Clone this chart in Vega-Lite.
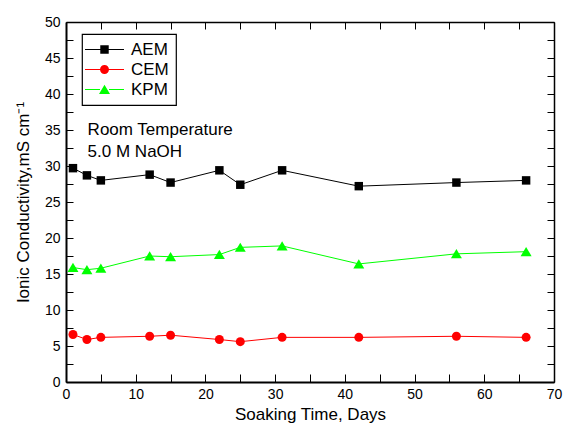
{
  "$schema": "https://vega.github.io/schema/vega-lite/v6.json",
  "width": 488,
  "height": 360,
  "autosize": "none",
  "padding": {"left": 66, "top": 22, "right": 9, "bottom": 50},
  "background": "white",
  "config": {
    "font": "Liberation Sans",
    "view": {"stroke": null},
    "axis": {
      "domainColor": "black",
      "tickColor": "black",
      "labelColor": "black",
      "titleColor": "black",
      "labelFont": "Liberation Sans",
      "titleFont": "Liberation Sans",
      "labelFontSize": 14,
      "titleFontSize": 17,
      "titleFontWeight": "normal",
      "grid": false,
      "ticks": true,
      "tickSize": -7,
      "tickWidth": 1,
      "labelFlush": false,
      "labelOverlap": false
    }
  },
  "data": {
    "values": [
      {"day": 1, "series": "AEM", "value": 29.7},
      {"day": 3, "series": "AEM", "value": 28.7},
      {"day": 5, "series": "AEM", "value": 28.0},
      {"day": 12, "series": "AEM", "value": 28.8},
      {"day": 15, "series": "AEM", "value": 27.7},
      {"day": 22, "series": "AEM", "value": 29.4},
      {"day": 25, "series": "AEM", "value": 27.4},
      {"day": 31, "series": "AEM", "value": 29.4},
      {"day": 42, "series": "AEM", "value": 27.2},
      {"day": 56, "series": "AEM", "value": 27.7},
      {"day": 66, "series": "AEM", "value": 28.0},
      {"day": 1, "series": "CEM", "value": 6.6},
      {"day": 3, "series": "CEM", "value": 5.9},
      {"day": 5, "series": "CEM", "value": 6.2},
      {"day": 12, "series": "CEM", "value": 6.35},
      {"day": 15, "series": "CEM", "value": 6.5},
      {"day": 22, "series": "CEM", "value": 5.9},
      {"day": 25, "series": "CEM", "value": 5.6},
      {"day": 31, "series": "CEM", "value": 6.2},
      {"day": 42, "series": "CEM", "value": 6.2},
      {"day": 56, "series": "CEM", "value": 6.35},
      {"day": 66, "series": "CEM", "value": 6.2},
      {"day": 1, "series": "KPM", "value": 15.9},
      {"day": 3, "series": "KPM", "value": 15.6},
      {"day": 5, "series": "KPM", "value": 15.8},
      {"day": 12, "series": "KPM", "value": 17.5},
      {"day": 15, "series": "KPM", "value": 17.4},
      {"day": 22, "series": "KPM", "value": 17.7},
      {"day": 25, "series": "KPM", "value": 18.7},
      {"day": 31, "series": "KPM", "value": 18.9},
      {"day": 42, "series": "KPM", "value": 16.4},
      {"day": 56, "series": "KPM", "value": 17.8},
      {"day": 66, "series": "KPM", "value": 18.1}
    ]
  },
  "layer": [
    {
      "mark": {"type": "line", "strokeWidth": 1},
      "encoding": {
        "x": {
          "field": "day", "type": "quantitative",
          "scale": {"domain": [0, 70], "nice": false, "zero": false},
          "axis": {
            "orient": "bottom",
            "title": "Soaking Time, Days",
            "values": [0, 5, 10, 15, 20, 25, 30, 35, 40, 45, 50, 55, 60, 65, 70],
            "labelExpr": "datum.value % 10 === 0 ? datum.label : ''",
            "domainWidth": 2,
            "tickSize": -8,
            "labelPadding": 13,
            "titlePadding": 5,
            "encode": {"ticks": {"y2": {"condition": {"test": "datum.value % 10 === 0", "value": -8}, "value": -4}}}
          }
        },
        "y": {
          "field": "value", "type": "quantitative",
          "scale": {"domain": [0, 50], "nice": false},
          "axis": {
            "orient": "left",
            "title": "Ionic Conductivity,mS cm⁻¹",
            "values": [0, 2.5, 5, 7.5, 10, 12.5, 15, 17.5, 20, 22.5, 25, 27.5, 30, 32.5, 35, 37.5, 40, 42.5, 45, 47.5, 50],
            "labelExpr": "datum.value % 5 === 0 ? datum.label : ''",
            "domainWidth": 2,
            "tickSize": -7,
            "labelPadding": 13,
            "titlePadding": 12,
            "encode": {"ticks": {"x2": {"condition": {"test": "datum.value % 5 === 0", "value": 7}, "value": 4}}}
          }
        },
        "color": {
          "field": "series", "type": "nominal",
          "scale": {"domain": ["AEM", "CEM", "KPM"], "range": ["#000000", "#ff0000", "#00ff00"]},
          "legend": {
            "orient": "none",
            "legendX": 16,
            "legendY": 12,
            "title": null,
            "labelFontSize": 17,
            "labelFont": "Liberation Sans",
            "labelColor": "black",
            "strokeColor": "black",
            "padding": 7,
            "symbolOffset": 7,
            "labelOffset": 18,
            "rowPadding": 2,
            "symbolSize": 81,
            "symbolStrokeWidth": 0,
            "symbolOpacity": 1,
            "encode": {
              "legend": {"update": {"strokeWidth": {"value": 1.2}}},
              "symbols": {
                "update": {
                  "size": {"value": 81},
                  "fill": {"scale": "color", "field": "value"},
                  "stroke": {"value": "transparent"},
                  "opacity": {"value": 1},
                  "shape": {"signal": "datum.value === 'AEM' ? 'M-4.33,-0.11H-0.9V0.11H-4.33Z M0.9,-0.11H4.33V0.11H0.9Z M-0.94,-0.94H0.94V0.94H-0.94Z' : datum.value === 'CEM' ? 'M-4.33,-0.11H-0.9V0.11H-4.33Z M0.9,-0.11H4.33V0.11H0.9Z M1,0A1,1 0 1,1 -1,0A1,1 0 1,1 1,0Z' : 'M-4.33,-0.11H-1V0.11H-4.33Z M1,-0.11H4.33V0.11H1Z M0,-1.05L1.22,1L-1.22,1Z'"}
                }
              }
            }
          }
        }
      }
    },
    {
      "transform": [{"filter": {"field": "series", "equal": "AEM"}}],
      "mark": {"type": "point", "filled": true, "opacity": 1, "size": 81, "strokeWidth": 0, "shape": "M-0.94,-0.94H0.94V0.94H-0.94Z"},
      "encoding": {
        "x": {
          "field": "day", "type": "quantitative",
          "axis": {
            "orient": "top", "labels": false, "title": null,
            "values": [0, 5, 10, 15, 20, 25, 30, 35, 40, 45, 50, 55, 60, 65, 70],
            "domainWidth": 1.5,
            "tickSize": -7,
            "encode": {"ticks": {"y2": {"condition": {"test": "datum.value % 10 === 0", "value": 7}, "value": 4}}}
          }
        },
        "y": {
          "field": "value", "type": "quantitative",
          "axis": {
            "orient": "right", "labels": false, "title": null,
            "values": [0, 2.5, 5, 7.5, 10, 12.5, 15, 17.5, 20, 22.5, 25, 27.5, 30, 32.5, 35, 37.5, 40, 42.5, 45, 47.5, 50],
            "domainWidth": 1.5,
            "tickSize": -7,
            "encode": {"ticks": {"x2": {"condition": {"test": "datum.value % 5 === 0", "value": -7}, "value": -4}}}
          }
        },
        "color": {"field": "series", "type": "nominal"}
      }
    },
    {
      "transform": [{"filter": {"field": "series", "equal": "CEM"}}],
      "mark": {"type": "point", "filled": true, "opacity": 1, "size": 81, "strokeWidth": 0, "shape": "circle"},
      "encoding": {
        "x": {"field": "day", "type": "quantitative", "axis": null},
        "y": {"field": "value", "type": "quantitative", "axis": null},
        "color": {"field": "series", "type": "nominal"}
      }
    },
    {
      "transform": [{"filter": {"field": "series", "equal": "KPM"}}],
      "mark": {"type": "point", "filled": true, "opacity": 1, "size": 81, "strokeWidth": 0, "shape": "M0,-1.05L1.22,1L-1.22,1Z"},
      "encoding": {
        "x": {"field": "day", "type": "quantitative", "axis": null},
        "y": {"field": "value", "type": "quantitative", "axis": null},
        "color": {"field": "series", "type": "nominal"}
      }
    },
    {
      "data": {"values": [{}]},
      "mark": {
        "type": "text",
        "text": ["Room Temperature", "5.0 M NaOH"],
        "align": "left",
        "baseline": "alphabetic",
        "fontSize": 17,
        "lineHeight": 21.5,
        "font": "Liberation Sans",
        "color": "black"
      },
      "encoding": {
        "x": {"datum": 3.1, "type": "quantitative", "axis": null},
        "y": {"datum": 34.3, "type": "quantitative", "axis": null}
      }
    }
  ],
  "resolve": {"axis": {"x": "independent", "y": "independent"}}
}
